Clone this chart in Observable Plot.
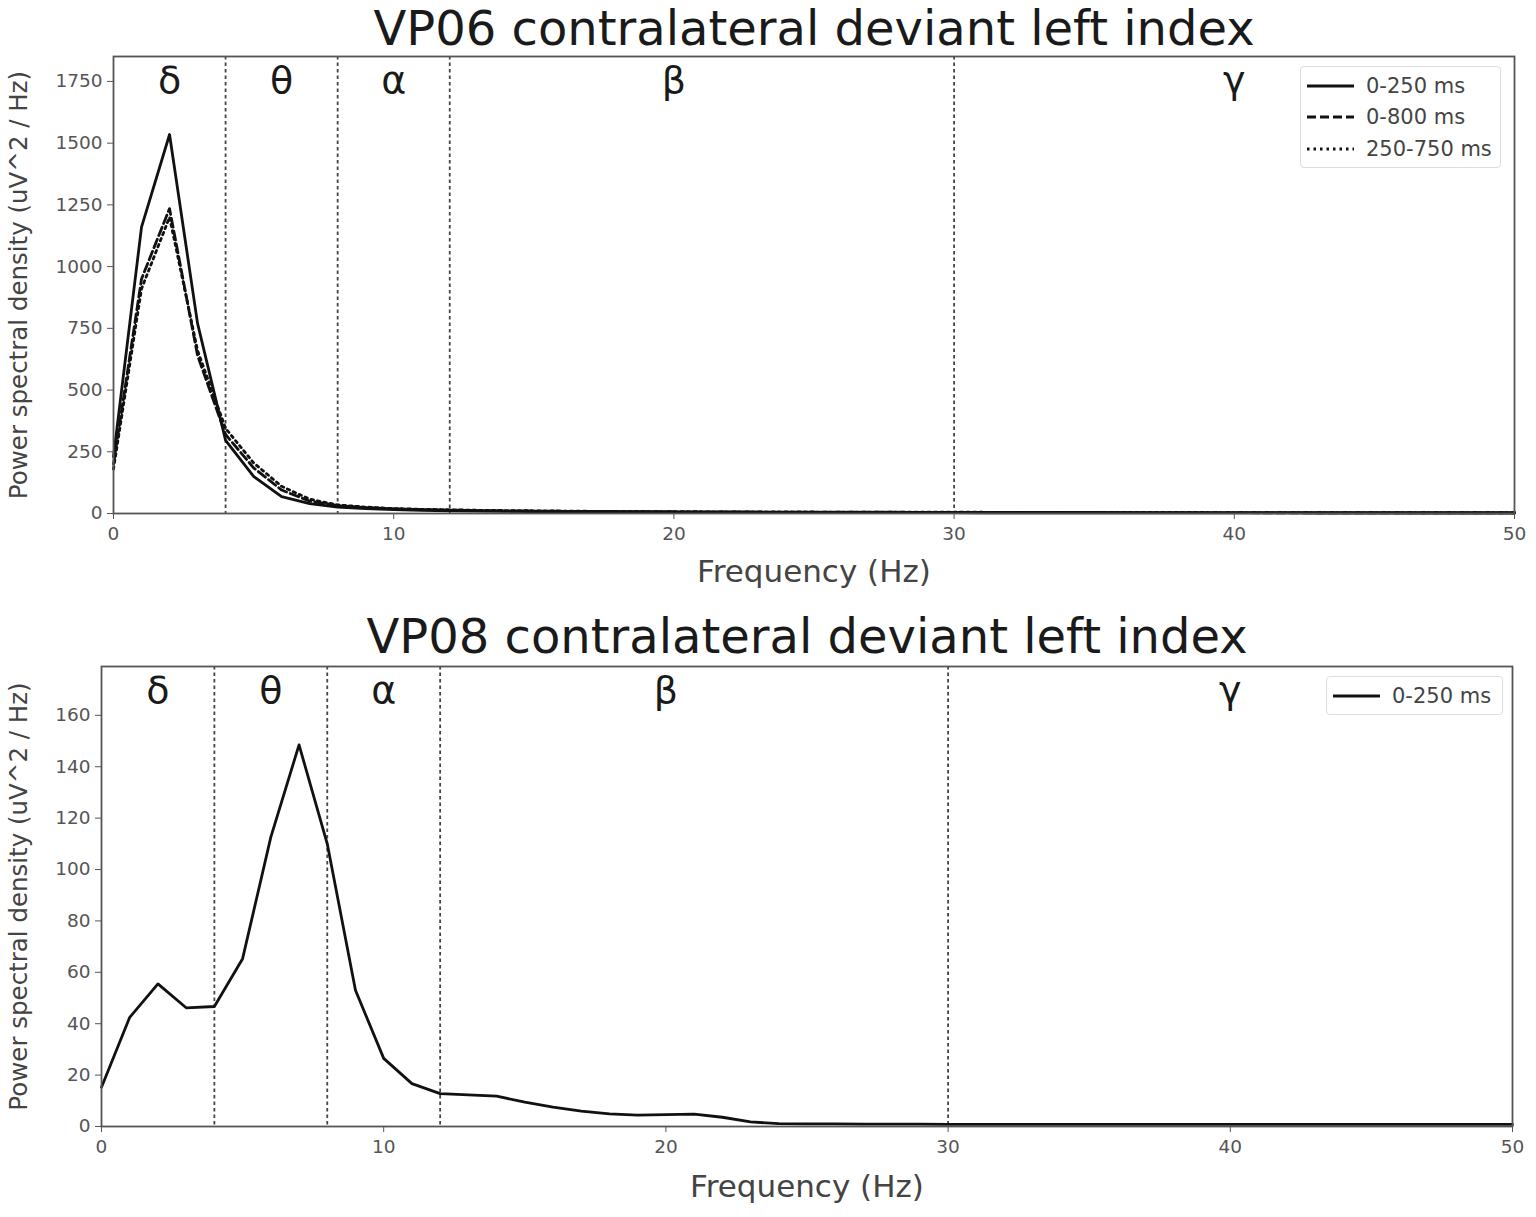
<!DOCTYPE html>
<html>
<head>
<meta charset="utf-8">
<script src="https://cdn.jsdelivr.net/npm/d3@7"></script>
<script src="https://cdn.jsdelivr.net/npm/@observablehq/plot@0.6"></script>
<style>
  html, body { margin: 0; padding: 0; background: #fff; }
  #wrap { position: relative; width: 1536px; height: 1217px; font-family: "DejaVu Sans", sans-serif; }
  .panel { position: absolute; left: 0; }
  .legend { position: absolute; border: 1.5px solid #ddd; border-radius: 4px; background: #fff; box-sizing: border-box; }
  .legend .row { display: flex; align-items: center; height: 31.5px; }
  .legend .row span { font-size: 21px; color: #444; margin-left: 12px; }
</style>
</head>
<body>
<div id="wrap"></div>
<script>
// ---------- data ----------
const freq = d3.range(0, 51); // 0..50 Hz, 1 Hz resolution

const vp06_0_250 = [230, 1160, 1535, 770, 296, 150, 68, 40, 26, 20, 16, 13, 11, 10, 9, 8, 7.5, 7, 6.5, 6, 5.5, 5, 5, 4.5, 4.5, 4, 4, 4, 3.5, 3.5, 3.5, 3, 3, 3, 3, 3, 3, 2.5, 2.5, 2.5, 2.5, 2.5, 2.5, 2, 2, 2, 2, 2, 2, 2, 2];
const vp06_0_800 = [200, 950, 1235, 640, 320, 185, 95, 50, 32, 24, 19, 16, 14, 12, 11, 10, 9, 8.5, 8, 7.5, 7, 6.5, 6, 6, 5.5, 5.5, 5, 5, 5, 4.5, 4.5, 4.5, 4, 4, 4, 4, 3.5, 3.5, 3.5, 3.5, 3.5, 3, 3, 3, 3, 3, 3, 3, 3, 3, 3];
const vp06_250_750 = [180, 910, 1200, 660, 345, 205, 110, 58, 35, 26, 20, 17, 15, 13, 12, 11, 10, 9, 8.5, 8, 7.5, 7, 6.5, 6.5, 6, 6, 5.5, 5.5, 5, 5, 5, 5, 4.5, 4.5, 4.5, 4, 4, 4, 4, 4, 3.5, 3.5, 3.5, 3.5, 3.5, 3.5, 3, 3, 3, 3, 3];

const vp08_0_250 = [15.3, 42.5, 55.5, 46.2, 46.7, 65.3, 112.6, 148.5, 110, 53, 26.5, 16.7, 12.8, 12.3, 11.8, 9.5, 7.5, 6, 4.9, 4.4, 4.6, 4.8, 3.6, 1.8, 1.1, 1.0, 1.0, 0.9, 0.9, 0.9, 0.8, 0.8, 0.8, 0.8, 0.8, 0.8, 0.8, 0.8, 0.8, 0.8, 0.8, 0.8, 0.8, 0.8, 0.8, 0.8, 0.8, 0.8, 0.8, 0.8, 0.8];

const bandEdges = [4, 8, 12, 30];
const bandLabels = ["δ", "θ", "α", "β", "γ"];
const bandCenters = [2, 6, 10, 20, 40];
const xTicks = [0, 10, 20, 30, 40, 50];
const yTicksTop = [0, 250, 500, 750, 1000, 1250, 1500, 1750];
const yTicksBottom = [0, 20, 40, 60, 80, 100, 120, 140, 160];

const seriesTop = [
  {name: "0-250 ms", values: vp06_0_250, dash: null},
  {name: "0-800 ms", values: vp06_0_800, dash: "9,4"},
  {name: "250-750 ms", values: vp06_250_750, dash: "2.5,4"}
];
const seriesBottom = [
  {name: "0-250 ms", values: vp08_0_250, dash: null}
];

const titleTop = "VP06 contralateral deviant left index";
const titleBottom = "VP08 contralateral deviant left index";
const xLabel = "Frequency (Hz)";
const yLabel = "Power spectral density (uV^2 / Hz)";

// ---------- drawing ----------
function panel({title, series, yMax, yTicks, height, mt, mb, ml, mr, titleDy, xLabelDy}) {
  const lineMarks = series.map(s => Plot.lineY(freq.map((f, i) => ({f, v: s.values[i]})), {
    x: "f", y: "v", stroke: "#111", strokeWidth: 2.8,
    strokeDasharray: s.dash, strokeLinejoin: "round"
  }));
  const bands = bandLabels.map((l, i) => ({l, c: bandCenters[i]}));
  return Plot.plot({
    width: 1536, height,
    marginTop: mt, marginBottom: mb, marginLeft: ml, marginRight: mr,
    style: {fontFamily: "DejaVu Sans, sans-serif", background: "white", overflow: "visible"},
    x: {domain: [0, 50]},
    y: {domain: [0, yMax]},
    marks: [
      Plot.ruleX(bandEdges, {stroke: "#444", strokeWidth: 1.8, strokeDasharray: "3.5,3"}),
      ...lineMarks,
      Plot.frame({stroke: "#555", strokeWidth: 1.8}),
      Plot.axisX({ticks: xTicks, tickFormat: d3.format("d"), tickSize: 6, tickPadding: 7, fontSize: 18.5, color: "#555", label: null, stroke: "#555"}),
      Plot.axisY({ticks: yTicks, tickFormat: d3.format("d"), tickSize: 6, tickPadding: 5, fontSize: 18.5, color: "#555", label: null, stroke: "#555"}),
      Plot.text(bands, {x: "c", text: "l", frameAnchor: "top", dy: 24, fontSize: 38, fill: "#1a1a1a", lineAnchor: "middle"}),
      Plot.text([title], {text: d => d, frameAnchor: "top", dy: titleDy, fontSize: 48, fill: "#1a1a1a", lineAnchor: "middle"}),
      Plot.text([xLabel], {text: d => d, frameAnchor: "bottom", dy: xLabelDy, fontSize: 31, fill: "#444", lineAnchor: "middle"}),
      Plot.text([yLabel], {text: d => d, frameAnchor: "left", textAnchor: "middle", dx: -(ml - 19), rotate: -90, fontSize: 24.5, fill: "#444", lineAnchor: "middle"})
    ]
  });
}

function legend(series, left, top, width, height) {
  const div = document.createElement("div");
  div.className = "legend";
  Object.assign(div.style, {left: left + "px", top: top + "px", width: width + "px", height: height + "px", padding: "3px 0 0 6px"});
  for (const s of series) {
    const row = document.createElement("div");
    row.className = "row";
    const svg = d3.create("svg").attr("width", 47).attr("height", 10);
    svg.append("line").attr("x1", 0).attr("x2", 47).attr("y1", 5).attr("y2", 5)
      .attr("stroke", "#111").attr("stroke-width", 3).attr("stroke-dasharray", s.dash);
    row.appendChild(svg.node());
    const sp = document.createElement("span");
    sp.textContent = s.name;
    row.appendChild(sp);
    div.appendChild(row);
  }
  return div;
}

const wrap = document.getElementById("wrap");

const top1 = document.createElement("div");
top1.className = "panel"; top1.style.top = "0px";
top1.appendChild(panel({title: titleTop, series: seriesTop, yMax: 1851, yTicks: yTicksTop, height: 600, mt: 56, mb: 87, ml: 113, mr: 22, titleDy: -27, xLabelDy: 59}));
wrap.appendChild(top1);

const bot = document.createElement("div");
bot.className = "panel"; bot.style.top = "600px";
bot.appendChild(panel({title: titleBottom, series: seriesBottom, yMax: 179, yTicks: yTicksBottom, height: 617, mt: 66, mb: 91, ml: 101, mr: 24, titleDy: -29, xLabelDy: 61}));
wrap.appendChild(bot);

wrap.appendChild(legend(seriesTop, 1300, 66, 201, 102));
wrap.appendChild(legend(seriesBottom, 1326, 676, 177, 39));
</script>
</body>
</html>
